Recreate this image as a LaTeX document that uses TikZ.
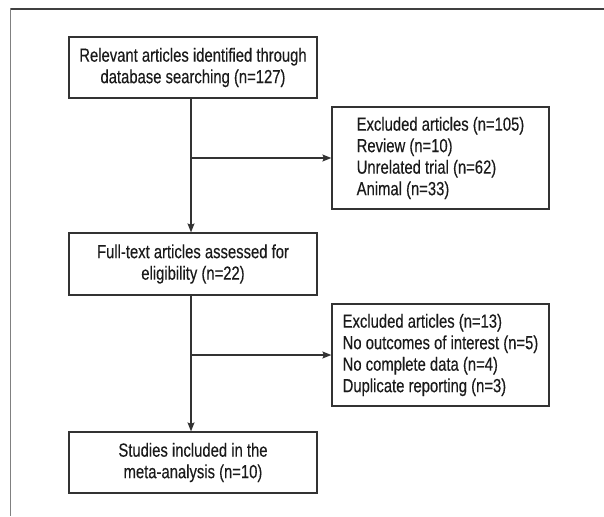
\documentclass[tikz,border=0pt]{standalone}
\usepackage{fontspec}
\setmainfont[FakeStretch=0.78,FakeBold=0.3]{Liberation Sans}
\usetikzlibrary{arrows.meta}
\definecolor{boxline}{HTML}{333333}
\definecolor{txt}{HTML}{1A1A1A}
\begin{document}
\begin{tikzpicture}[x=1pt,y=-1pt,
  box/.style={draw=boxline, line width=1.2pt, inner sep=0pt, text=txt,
    font=\fontsize{19}{21.5}\selectfont},
  mainbox/.style={box, minimum width=248pt, minimum height=61pt, align=center},
  exbox/.style={box, minimum width=217pt, minimum height=102pt, align=left},
  arr/.style={draw=boxline, line width=1.2pt, -{Stealth[length=9pt,width=7pt,inset=1.5pt]}},
  conn/.style={draw=boxline, line width=1.2pt}]
\useasboundingbox (0,0) rectangle (604,516);
% frame
\draw[line width=1.5pt, color=black!75] (10.5,9) -- (604,9);
\draw[line width=1.5pt, color=black!50] (10.5,8.25) -- (10.5,516);
% boxes
\node[mainbox] (b1) at (193,67.5) {Relevant articles identified through\\database searching (n=127)};
\node[mainbox, minimum height=62pt] (b2) at (193,264) {Full-text articles assessed for\\eligibility (n=22)};
\node[mainbox] (b3) at (193,462.5) {Studies included in the\\meta-analysis (n=10)};
\node[exbox] (e1) at (440.5,158) {Excluded articles (n=105)\\Review (n=10)\\Unrelated trial (n=62)\\Animal (n=33)};
\node[exbox] (e2) at (440.5,355) {Excluded articles (n=13)\\No outcomes of interest (n=5)\\No complete data (n=4)\\Duplicate reporting (n=3)};
% connectors
\coordinate (s1) at ([xshift=-2pt]b1.south);
\coordinate (s2) at ([xshift=-2pt]b2.south);
\draw[arr] (s1) -- (s1 |- b2.north);
\draw[arr] (s1 |- e1.west) -- (e1.west);
\draw[arr] (s2) -- (s2 |- b3.north);
\draw[arr] (s2 |- e2.west) -- (e2.west);
\end{tikzpicture}
\end{document}
